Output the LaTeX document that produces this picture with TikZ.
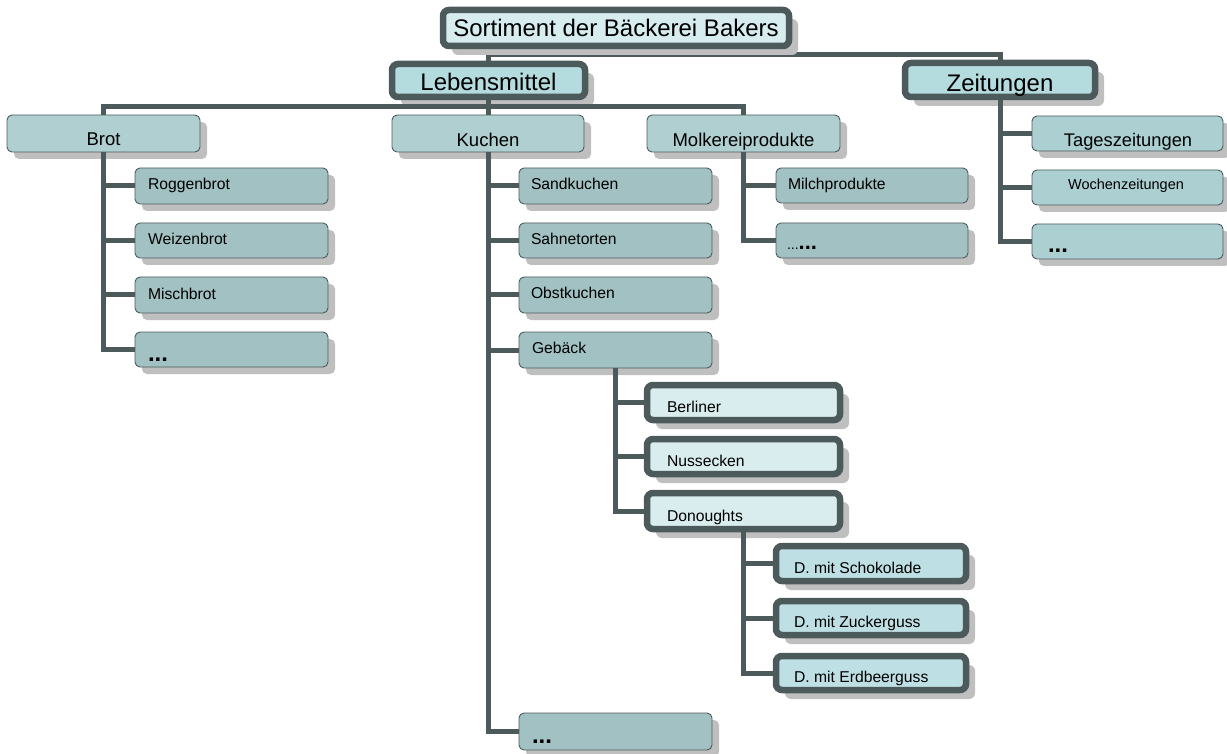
\documentclass[tikz,border=0pt]{standalone}
\usepackage{fontspec}
\setmainfont{Liberation Sans}
\usetikzlibrary{shadows,backgrounds}
\definecolor{cline}{HTML}{4D5A5B}
\definecolor{fRoot}{HTML}{D6ECEF}
\definecolor{fTop}{HTML}{B4DCDF}
\definecolor{fA}{HTML}{AFCFD0}
\definecolor{fZ}{HTML}{ACD0D2}
\definecolor{fB}{HTML}{A2C1C2}
\definecolor{fC}{HTML}{D9ECEE}
\definecolor{fD}{HTML}{BEE0E4}
\tikzset{
  conn/.style={draw=cline, line width=5pt},
  boxbase/.style={rectangle, inner sep=0pt, outer sep=0pt, anchor=north west},
  thinbox/.style={boxbase, draw=cline, line width=0.9pt, rounded corners=5pt,
    drop shadow={shadow xshift=7pt, shadow yshift=-7pt, fill=black!25, opacity=1}},
  thickbox/.style={boxbase, draw=cline, line width=6.5pt, rounded corners=6pt,
    drop shadow={shadow xshift=9pt, shadow yshift=-9pt, fill=black!25, opacity=1}},
  lvR/.style={thickbox, fill=fRoot},
  lvT/.style={thickbox, fill=fTop},
  lvA/.style={thinbox, fill=fA},
  lvZ/.style={thinbox, fill=fZ},
  lvB/.style={thinbox, fill=fB},
  lvC/.style={thickbox, fill=fC},
  lvD/.style={thickbox, fill=fD},
  txt/.style={inner sep=0pt, outer sep=0pt, text=black},
  tA/.style={txt, font=\fontsize{24}{28}\selectfont},
  tB/.style={txt, font=\fontsize{18.5}{22}\selectfont},
  tC/.style={txt, font=\fontsize{15.7}{19}\selectfont},
  tS/.style={txt, font=\fontsize{14.5}{17}\selectfont},
  tD/.style={txt, font=\fontsize{24}{28}\selectfont\bfseries},
}
\newcommand\bx[6]{\node[#1, minimum width={#5-#3}, minimum height={#6-#4}] (#2) at (#3,#4) {};}
\begin{document}
\begin{tikzpicture}[x=1pt,y=-1pt]
\useasboundingbox (0,0) rectangle (1227,754);

% top level
\bx{lvR}{root}{443}{10}{789}{46}
\node[tA, anchor=base] (root-t) at (616,37) {Sortiment der Bäckerei Bakers};
\bx{lvT}{leb}{392}{64}{585}{97}
\node[tA, anchor=base] (leb-t) at (488.5,91) {Lebensmittel};
\bx{lvT}{zeit}{905}{63}{1095}{97}
\node[tA, anchor=base] (zeit-t) at (1000,92) {Zeitungen};

% level 2
\bx{lvA}{brot}{7}{115}{200}{152}
\node[tB, anchor=base] (brot-t) at (103.5,146) {Brot};
\bx{lvA}{kuchen}{392}{115}{584}{152}
\node[tB, anchor=base] (kuchen-t) at (488,147) {Kuchen};
\bx{lvA}{molk}{647}{115}{840}{152}
\node[tB, anchor=base] (molk-t) at (743.5,147) {Molkereiprodukte};

% Zeitungen children
\bx{lvZ}{tage}{1032}{116}{1223}{151}
\node[txt, font=\fontsize{18.3}{22}\selectfont, anchor=base] (tage-t) at (1128,147) {Tageszeitungen};
\bx{lvZ}{woch}{1032}{170}{1223}{205}
\node[tS, anchor=base] (woch-t) at (1126,190) {Wochenzeitungen};
\bx{lvZ}{zdots}{1032}{224}{1223}{259}
\node[tD, anchor=base west] (zdots-t) at (1048,253) {...};

% Brot children
\bx{lvB}{rog}{135}{168}{328}{204}
\node[tC, anchor=base west] (rog-t) at (148,190) {Roggenbrot};
\bx{lvB}{weiz}{135}{223}{328}{258}
\node[tC, anchor=base west] (weiz-t) at (148,244.5) {Weizenbrot};
\bx{lvB}{misch}{135}{277}{328}{313}
\node[tC, anchor=base west] (misch-t) at (148,299) {Mischbrot};
\bx{lvB}{bdots}{135}{332}{328}{367}
\node[tD, anchor=base west] (bdots-t) at (148,361) {...};

% Kuchen children
\bx{lvB}{sand}{519}{168}{712}{204}
\node[tC, anchor=base west] (sand-t) at (531,190) {Sandkuchen};
\bx{lvB}{sahne}{519}{223}{712}{258}
\node[tC, anchor=base west] (sahne-t) at (531,244.5) {Sahnetorten};
\bx{lvB}{obst}{519}{277}{712}{313}
\node[tC, anchor=base west] (obst-t) at (531,298.5) {Obstkuchen};
\bx{lvB}{geb}{519}{332}{712}{368}
\node[tC, anchor=base west] (geb-t) at (532,353) {Gebäck};
\bx{lvB}{kdots}{519}{713}{712}{750}
\node[tD, anchor=base west] (kdots-t) at (532,743) {...};

% Molkereiprodukte children
\bx{lvB}{milch}{776}{168}{968}{203}
\node[tC, anchor=base west] (milch-t) at (788,189.5) {Milchprodukte};
\bx{lvB}{mdots}{776}{223}{968}{258}
\node[txt, anchor=base west] (mdots-t) at (787,250) {{\fontsize{14}{16}\selectfont ...}{\fontsize{22}{26}\selectfont\bfseries ...}};

% Gebaeck children
\bx{lvC}{berl}{647}{385}{840}{420}
\node[tC, anchor=base west] (berl-t) at (667,412) {Berliner};
\bx{lvC}{nuss}{647}{439}{840}{474}
\node[tC, anchor=base west] (nuss-t) at (667,466) {Nussecken};
\bx{lvC}{don}{647}{493}{840}{529}
\node[tC, anchor=base west] (don-t) at (667,521) {Donoughts};

% Donoughts children
\bx{lvD}{schok}{776}{546}{966}{581}
\node[tC, anchor=base west] (schok-t) at (794,573) {D. mit Schokolade};
\bx{lvD}{zuck}{776}{601}{966}{635}
\node[tC, anchor=base west] (zuck-t) at (794,627.5) {D. mit Zuckerguss};
\bx{lvD}{erd}{776}{656}{966}{690}
\node[tC, anchor=base west] (erd-t) at (794,682.5) {D. mit Erdbeerguss};

% connectors behind everything (top level)
\begin{scope}[on background layer]
  \draw[conn] (root.south) -- ++(0,9);
  \draw[conn] (leb.north) -- ++(0,-9) -| (zeit.north);
\end{scope}

% connectors on top of shadows
\draw[conn] (brot.north) -- ++(0,-8) -| (molk.north);
\draw[conn] (leb.south) -- (leb.south |- kuchen.north);

\draw[conn] (brot.south) |- (bdots.west);
\foreach \n in {rog,weiz,misch} \draw[conn] (brot.south |- \n.west) -- (\n.west);

\draw[conn] (kuchen.south) |- (kdots.west);
\foreach \n in {sand,sahne,obst,geb} \draw[conn] (kuchen.south |- \n.west) -- (\n.west);

\draw[conn] (molk.south) |- (mdots.west);
\draw[conn] (molk.south |- milch.west) -- (milch.west);

\draw[conn] (zeit.south) |- (zdots.west);
\foreach \n in {tage,woch} \draw[conn] (zeit.south |- \n.west) -- (\n.west);

\draw[conn] (geb.south) |- (don.west);
\foreach \n in {berl,nuss} \draw[conn] (geb.south |- \n.west) -- (\n.west);

\draw[conn] (don.south) |- (erd.west);
\foreach \n in {schok,zuck} \draw[conn] (don.south |- \n.west) -- (\n.west);
\end{tikzpicture}
\end{document}
